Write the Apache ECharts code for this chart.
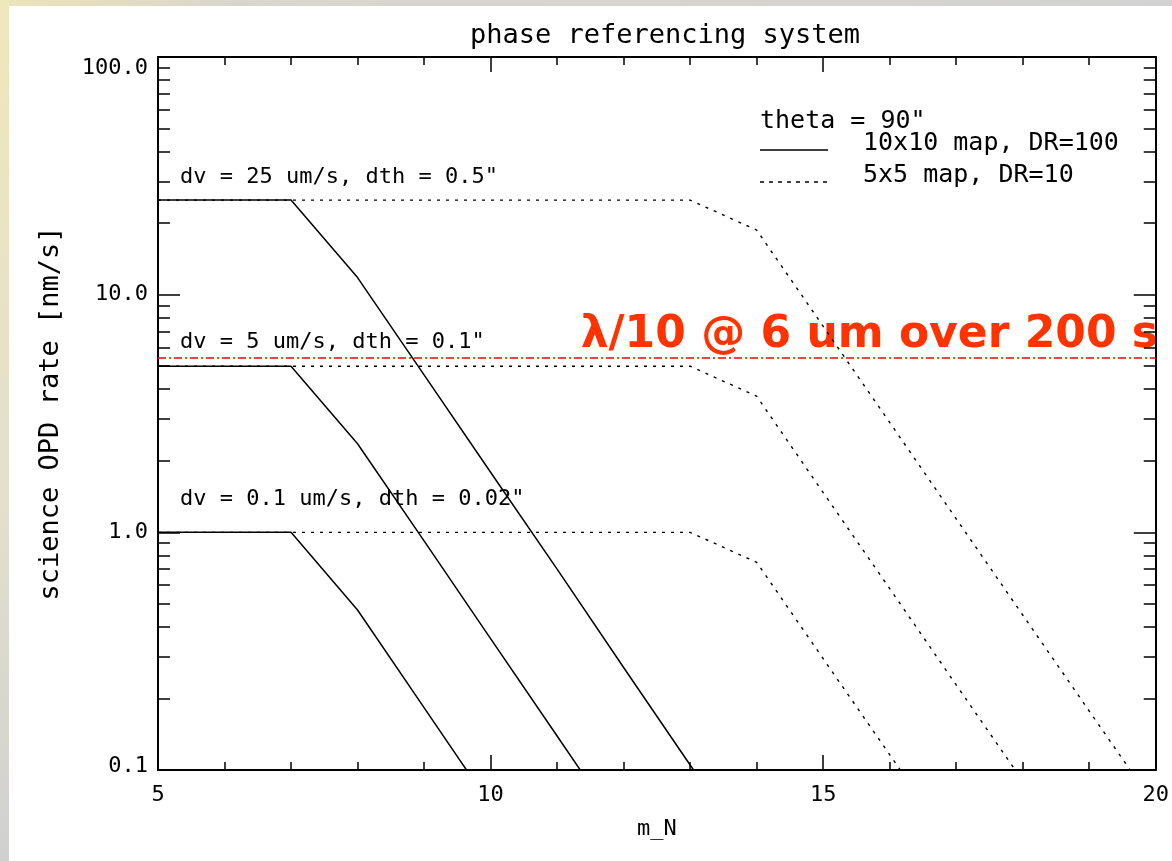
<!DOCTYPE html>
<html>
<head>
<meta charset="utf-8">
<title>phase referencing system</title>
<script src="https://cdn.jsdelivr.net/npm/echarts@6/dist/echarts.min.js"></script>
<style>
  html, body { margin: 0; padding: 0; background: #fff; }
  #chart { width: 1172px; height: 861px; }
</style>
</head>
<body>
<div id="chart"></div>
<script>
  const mags = [5, 6, 7, 8, 9, 10, 11, 12, 13, 14, 15, 16, 17, 18, 19, 20]

  // 10x10 map, DR=100 (solid)
  const solid25 = [25, 25, 25, 11.8, 4.6, 1.79, 0.7, 0.27, 0.105, 0.041]
  const solid5 = [5, 5, 5, 2.36, 0.92, 0.357, 0.139, 0.054]
  const solid1 = [1, 1, 1, 0.471, 0.183, 0.071]

  // 5x5 map, DR=10 (dotted)
  const dotted25 = [25, 25, 25, 25, 25, 25, 25, 25, 25, 18.7, 7.36, 2.9, 1.14, 0.449, 0.177, 0.07]
  const dotted5 = [5, 5, 5, 5, 5, 5, 5, 5, 5, 3.74, 1.47, 0.58, 0.228, 0.09]
  const dotted1 = [1, 1, 1, 1, 1, 1, 1, 1, 1, 0.748, 0.294, 0.116, 0.046]

  const yMinorTicks = [0.2, 0.3, 0.4, 0.5, 0.6, 0.7, 0.8, 0.9,
    2, 3, 4, 5, 6, 7, 8, 9, 20, 30, 40, 50, 60, 70, 80, 90]

  const refRate = 5.44 // lambda/10 @ 6 um over 200 s

  const mono = '"DejaVu Sans Mono", monospace'
  const black = '#000'

  const toPairs = (vals) => vals.map((v, i) => [mags[i], v])

  function curve(name, vals, dotted) {
    return {
      name,
      type: 'line',
      data: toPairs(vals),
      symbol: 'none',
      silent: true,
      clip: true,
      lineStyle: {
        color: black,
        width: dotted ? 1.4 : 1.5,
        type: dotted ? [3, 6] : 'solid'
      }
    }
  }

  const axisLine = { show: true, onZero: false, lineStyle: { color: black, width: 2 } }
  const tickLine = { color: black, width: 1.5 }

  function xAxis(position, labels) {
    return {
      type: 'value',
      position,
      min: 5,
      max: 20,
      interval: 5,
      axisLine,
      axisTick: { inside: true, length: 15, lineStyle: tickLine },
      minorTick: { show: true, splitNumber: 5, length: 8, lineStyle: tickLine },
      splitLine: { show: false },
      axisLabel: labels
        ? { margin: 14, color: black, fontFamily: mono, fontSize: 22 }
        : { show: false }
    }
  }

  // IDL nudges the end labels inwards a little
  function yLabel(v) {
    const s = Number(v).toFixed(1)
    if (v >= 100) return '{top|' + s + '}'
    if (v <= 0.1) return '{low|' + s + '}'
    return s
  }

  function yAxis(position, minor, labels) {
    return {
      type: 'log',
      logBase: 10,
      position,
      min: 0.1,
      max: 100,
      axisLine: minor ? { show: false } : axisLine,
      axisTick: minor
        ? { inside: true, length: 12, lineStyle: tickLine, customValues: yMinorTicks }
        : { inside: true, length: 22, lineStyle: tickLine },
      minorTick: { show: false },
      splitLine: { show: false },
      axisLabel: labels
        ? {
            margin: 10,
            color: black,
            fontFamily: mono,
            fontSize: 22,
            formatter: yLabel,
            rich: {
              top: { fontFamily: mono, fontSize: 22, color: black, padding: [22, 0, 0, 0] },
              low: { fontFamily: mono, fontSize: 22, color: black, padding: [0, 0, 8, 0] }
            }
          }
        : { show: false }
    }
  }

  function note(text, x, y, size) {
    return {
      type: 'text',
      x,
      y,
      silent: true,
      style: {
        text,
        fill: black,
        fontFamily: mono,
        fontSize: size || 22,
        verticalAlign: 'middle'
      }
    }
  }

  const chart = echarts.init(document.getElementById('chart'))

  const left = yAxis('left', false, true)
  left.name = 'science OPD rate [nm/s]'
  left.nameLocation = 'middle'
  left.nameGap = 94
  left.nameTextStyle = { color: black, fontFamily: mono, fontSize: 27 }

  const bottom = xAxis('bottom', true)
  bottom.name = 'm_N'
  bottom.nameLocation = 'middle'
  bottom.nameGap = 48
  bottom.nameTextStyle = { color: black, fontFamily: mono, fontSize: 22 }

  const s25 = curve('10x10 map, DR=100', solid25, false)
  s25.markLine = {
    symbol: 'none',
    silent: true,
    label: { show: false },
    lineStyle: { color: '#ff0000', width: 1.5, type: [8, 3, 2, 3] },
    data: [{ yAxis: refRate }]
  }

  chart.setOption({
    animation: false,
    backgroundColor: '#fff',
    title: {
      text: 'phase referencing system',
      left: 660,
      top: 17,
      textAlign: 'center',
      textStyle: { color: black, fontFamily: mono, fontSize: 27, fontWeight: 'normal' }
    },
    grid: { left: 158, right: 4, top: 57, bottom: 91, containLabel: false },
    xAxis: [bottom, xAxis('top', false)],
    yAxis: [left, yAxis('left', true, false), yAxis('right', false, false), yAxis('right', true, false)],
    series: [
      curve('5x5 map, DR=10', dotted25, true),
      curve('5x5 map, DR=10', dotted5, true),
      curve('5x5 map, DR=10', dotted1, true),
      s25,
      curve('10x10 map, DR=100', solid5, false),
      curve('10x10 map, DR=100', solid1, false)
    ],
    graphic: [
      // slide border
      {
        type: 'rect',
        shape: { x: 0, y: 0, width: 1172, height: 6 },
        silent: true,
        style: {
          fill: new echarts.graphic.LinearGradient(0, 0, 1, 0, [
            { offset: 0, color: '#ece4b8' },
            { offset: 0.2, color: '#d8d6cc' },
            { offset: 1, color: '#d2d2d2' }
          ])
        }
      },
      {
        type: 'rect',
        shape: { x: 0, y: 0, width: 9, height: 861 },
        silent: true,
        style: {
          fill: new echarts.graphic.LinearGradient(0, 0, 0, 1, [
            { offset: 0, color: '#efe7bc' },
            { offset: 0.6, color: '#e2dfcc' },
            { offset: 1, color: '#d0d0d0' }
          ])
        }
      },
      note('dv = 25 um/s, dth = 0.5"', 180, 177),
      note('dv = 5 um/s, dth = 0.1"', 180, 342),
      note('dv = 0.1 um/s, dth = 0.02"', 180, 499),
      note('theta = 90"', 760, 121, 25),
      note('10x10 map, DR=100', 863, 143, 25),
      note('5x5 map, DR=10', 863, 175, 25),
      {
        type: 'line',
        silent: true,
        shape: { x1: 760, y1: 150, x2: 828, y2: 150 },
        style: { stroke: black, lineWidth: 1.5 }
      },
      {
        type: 'line',
        silent: true,
        shape: { x1: 760, y1: 182, x2: 828, y2: 182 },
        style: { stroke: black, lineWidth: 1.5, lineDash: [4, 5] }
      },
      {
        type: 'text',
        x: 1158,
        y: 336,
        silent: true,
        style: {
          text: 'λ/10 @ 6 um over 200 s',
          fill: '#ff3300',
          fontFamily: '"DejaVu Sans", sans-serif',
          fontWeight: 'bold',
          fontSize: 44,
          align: 'right',
          verticalAlign: 'middle'
        }
      }
    ]
  })
</script>
</body>
</html>
